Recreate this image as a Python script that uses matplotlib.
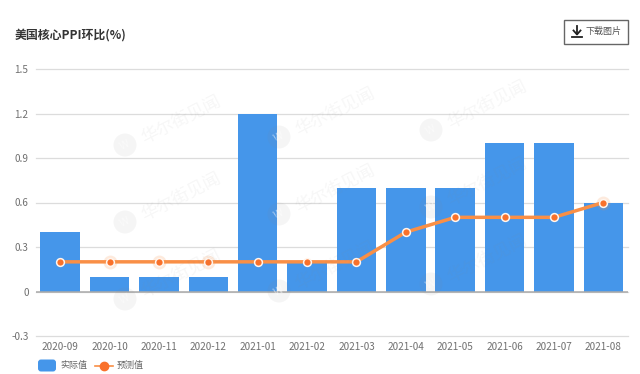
import matplotlib
matplotlib.use("Agg")
import matplotlib.pyplot as plt
from matplotlib.patches import Circle, Rectangle, FancyBboxPatch
from matplotlib.lines import Line2D

plt.rcParams['font.family'] = ['Noto Sans CJK SC', 'DejaVu Sans']

months = ["2020-09", "2020-10", "2020-11", "2020-12", "2021-01", "2021-02",
          "2021-03", "2021-04", "2021-05", "2021-06", "2021-07", "2021-08"]
actual = [0.4, 0.1, 0.1, 0.1, 1.2, 0.2, 0.7, 0.7, 0.7, 1.0, 1.0, 0.6]
forecast = [0.2, 0.2, 0.2, 0.2, 0.2, 0.2, 0.2, 0.4, 0.5, 0.5, 0.5, 0.6]
yticks = [-0.3, 0, 0.3, 0.6, 0.9, 1.2, 1.5]
ylabels = ["-0.3", "0", "0.3", "0.6", "0.9", "1.2", "1.5"]
marks = [(125, 145), (125, 222), (125, 299),
         (279, 137), (279, 214), (279, 291),
         (431, 130), (431, 207), (431, 284)]

W, H = 640, 374
fig = plt.figure(figsize=(W / 100, H / 100), dpi=100)
ax = fig.add_axes([35.5 / W, 1 - 336 / H, 592.5 / W, 267 / H])

blue = "#4596ea"
orange = "#f98f46"
dot = "#f9712b"

ax.set_xlim(-0.5, 11.5)
ax.set_ylim(-0.3, 1.5)
ax.set_yticks(yticks)
ax.set_yticklabels(ylabels)
ax.set_xticks(range(12))
ax.set_xticklabels(months)
ax.tick_params(length=0, labelsize=7.2, colors="#707070")
ax.tick_params(axis="x", pad=4)
ax.tick_params(axis="y", pad=5)
ax.grid(axis="y", color="#dcdcdc", lw=0.9, clip_on=False)
ax.set_axisbelow(True)
for s in ax.spines.values():
    s.set_visible(False)

ax.bar(range(12), actual, width=0.8, color=blue, zorder=2)
ax.axhline(0, color="#aaaaaa", lw=1.1, zorder=3)
ax.plot(range(12), forecast, color=orange, lw=2.5, zorder=4)

# pale glow where the dot sits above its bar
for i in range(12):
    if forecast[i] >= actual[i] and i != 5:
        ax.plot([i], [forecast[i]], ls="none", marker="o", ms=10, mfc=orange,
                mec="none", alpha=0.18, zorder=4)
ax.plot(range(12), forecast, ls="none", marker="o", ms=5.6, mfc=dot,
        mec="#fff6ef", mew=1.1, zorder=5)

# faint watermarks
for x, y in marks:
    fig.text((x + 56) / W, 1 - (y - 25) / H, "华尔街见闻", fontsize=12.5, rotation=27,
             color="#888888", alpha=0.07, ha="center", va="center", rotation_mode="anchor",
             zorder=6)
    fig.add_artist(Circle((x, H - y), 11.5, transform=None, fc="#888888",
                          alpha=0.08, ec="none", zorder=6))
    fig.text(x / W, 1 - y / H, "W", fontsize=8, rotation=27, color="white", alpha=0.5,
             ha="center", va="center", zorder=6)

fig.text(15 / W, 1 - 35 / H, "美国核心PPI环比(%)", fontsize=8.6, fontweight="bold",
         color="#333333", va="center")

# download button
fig.add_artist(Rectangle((564, H - 43.5), 64, 24, transform=None, fc="white",
                         ec="#666666", lw=1))
fig.text(586 / W, 1 - 31.5 / H, "下载图片", fontsize=6.5, color="#555555", va="center")
fig.add_artist(Line2D([577, 577], [H - 26, H - 34], transform=None, color="#222222", lw=1.3))
fig.add_artist(Line2D([573.5, 577, 580.5], [H - 30.5, H - 34.5, H - 30.5], transform=None,
                      color="#222222", lw=1.3))
fig.add_artist(Line2D([572, 582], [H - 37, H - 37], transform=None, color="#222222", lw=1.3))

# legend
fig.add_artist(FancyBboxPatch((40, H - 369.5), 14, 8, boxstyle="round,pad=2,rounding_size=3",
                              transform=None, fc=blue, ec="none"))
fig.text(60 / W, 1 - 365.5 / H, "实际值", fontsize=6.5, color="#666666", va="center")
fig.add_artist(Line2D([95, 113], [H - 365.5, H - 365.5], transform=None, color=orange, lw=1.2))
fig.add_artist(Line2D([104], [H - 365.5], transform=None, marker="o", ms=6, mfc=dot, mec=dot))
fig.text(117 / W, 1 - 365.5 / H, "预测值", fontsize=6.5, color="#666666", va="center")

fig.savefig("out.png", dpi=100)
